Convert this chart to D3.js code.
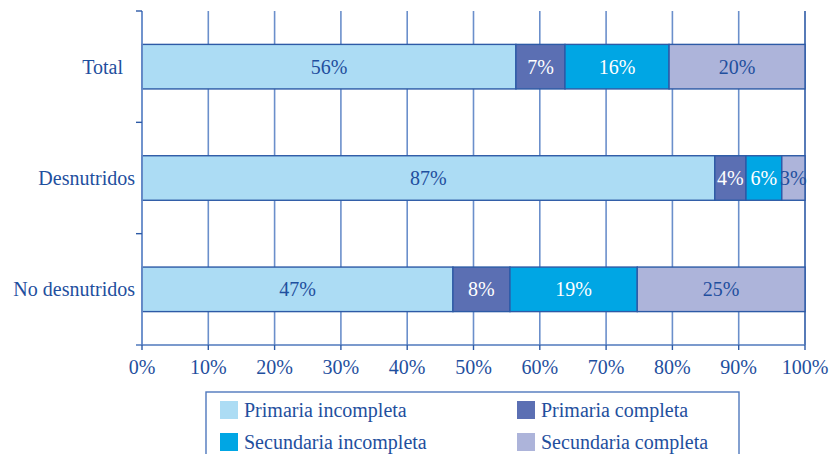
<!DOCTYPE html>
<html>
<head>
<meta charset="utf-8">
<script src="https://cdn.jsdelivr.net/npm/d3@7"></script>
<style>
  body { margin: 0; background: #fff; }
  text { font-family: "Liberation Serif", "DejaVu Serif", serif; fill: #1f4f9e; }
</style>
</head>
<body>
<div class="graph"></div>
<script>
// Data
var categories = ["Total", "Desnutridos", "No desnutridos"];
var series = ["Primaria incompleta", "Primaria completa", "Secundaria incompleta", "Secundaria completa"];
var colors = ["#acdcf4", "#5b6fb3", "#00a6e4", "#adb4da"];
var textColors = ["#1f4f9e", "#ffffff", "#ffffff", "#1f4f9e"];
// segment widths (percent) for each series, in category order
var primInc = [56.4, 86.4, 46.9];
var primCom = [7.4, 4.7, 8.6];
var secInc = [15.7, 5.4, 19.2];
var secCom = [20.5, 3.5, 25.3];
// printed labels
var primIncLbl = [56, 87, 47];
var primComLbl = [7, 4, 8];
var secIncLbl = [16, 6, 19];
var secComLbl = [20, 3, 25];
var xTicks = [0, 10, 20, 30, 40, 50, 60, 70, 80, 90, 100];

var values = [primInc, primCom, secInc, secCom];
var labels = [primIncLbl, primComLbl, secIncLbl, secComLbl];

const W = 832, H = 454;
const mLeft = 142, mRight = 805, mTop = 11, mBottom = 345;
const fs = "20px";

var svg = d3.select(".graph").append("svg")
  .attr("width", W).attr("height", H);

var x = d3.scaleLinear().domain([0, 100]).range([mLeft, mRight]);
var y = d3.scaleBand().domain(categories).range([mTop, mBottom])
  .paddingInner(0.6).paddingOuter(0.3);

// gridlines
svg.append("g").selectAll("line")
  .data(xTicks)
  .enter().append("line")
  .attr("x1", d => x(d)).attr("x2", d => x(d))
  .attr("y1", mTop).attr("y2", mBottom)
  .style("stroke", d => d === 100 ? "#2d5aa6" : "#6b8fcb")
  .style("stroke-width", 1.6);

// stacked rows
var rows = categories.map(function(c, i) {
  var acc = 0;
  return values.map(function(v, s) {
    var seg = {cat: c, s: s, x0: acc, x1: acc + v[i], label: labels[s][i]};
    acc += v[i];
    return seg;
  });
});
var segs = [].concat.apply([], rows);

svg.append("g").selectAll("rect")
  .data(segs)
  .enter().append("rect")
  .attr("x", d => x(d.x0))
  .attr("y", d => y(d.cat))
  .attr("width", d => x(d.x1) - x(d.x0))
  .attr("height", y.bandwidth())
  .style("fill", d => colors[d.s])
  .style("stroke", "#2d5aa6")
  .style("stroke-width", 1.4);

svg.append("g").selectAll("text")
  .data(segs)
  .enter().append("text")
  .attr("x", d => (x(d.x0) + x(d.x1)) / 2)
  .attr("y", d => y(d.cat) + y.bandwidth() / 2)
  .attr("dy", "0.35em")
  .attr("text-anchor", "middle")
  .style("font-size", fs)
  .style("fill", d => textColors[d.s])
  .text(d => d.label + "%");

// y axis
var yAxis = svg.append("g").attr("transform", "translate(" + mLeft + ",0)");
yAxis.append("line")
  .attr("x1", 0).attr("x2", 0).attr("y1", mTop).attr("y2", mBottom)
  .style("stroke", "#6b8fcb").style("stroke-width", 1.6);
var step = y.step();
yAxis.selectAll(".tk")
  .data(d3.range(0, 3))
  .enter().append("line")
  .attr("x1", -6).attr("x2", 0)
  .attr("y1", d => mTop + d * step).attr("y2", d => mTop + d * step)
  .style("stroke", "#2d5aa6").style("stroke-width", 1.4);
yAxis.selectAll("text")
  .data(categories)
  .enter().append("text")
  .attr("x", d => d === "Total" ? -19 : -7)
  .attr("y", d => y(d) + y.bandwidth() / 2)
  .attr("dy", "0.35em")
  .attr("text-anchor", "end")
  .style("font-size", fs)
  .text(d => d);

// x axis
var xAxis = svg.append("g").attr("transform", "translate(0," + mBottom + ")");
xAxis.append("line")
  .attr("x1", mLeft - 6).attr("x2", mRight).attr("y1", 0).attr("y2", 0)
  .style("stroke", "#4f78bd").style("stroke-width", 1.6);
xAxis.selectAll(".tk")
  .data(xTicks)
  .enter().append("line")
  .attr("x1", d => x(d)).attr("x2", d => x(d))
  .attr("y1", 0).attr("y2", 5)
  .style("stroke", "#2d5aa6").style("stroke-width", 1.4);
xAxis.selectAll("text")
  .data(xTicks)
  .enter().append("text")
  .attr("x", d => x(d))
  .attr("y", 29)
  .attr("text-anchor", "middle")
  .style("font-size", fs)
  .text(d => d + "%");

// legend
var lg = svg.append("g");
lg.append("rect")
  .attr("x", 206).attr("y", 392).attr("width", 533).attr("height", 80)
  .style("fill", "none").style("stroke", "#4f78bd").style("stroke-width", 1.4);
var legendPos = [[220, 401], [517, 401], [220, 433], [517, 433]];
var order = [0, 1, 2, 3];
var items = lg.selectAll(".item")
  .data(order)
  .enter().append("g")
  .attr("transform", d => "translate(" + legendPos[d][0] + "," + legendPos[d][1] + ")");
items.append("rect")
  .attr("width", 18).attr("height", 18)
  .style("fill", d => colors[d]);
items.append("text")
  .attr("x", 24).attr("y", 16)
  .style("font-size", fs)
  .text(d => series[d]);
</script>
</body>
</html>
